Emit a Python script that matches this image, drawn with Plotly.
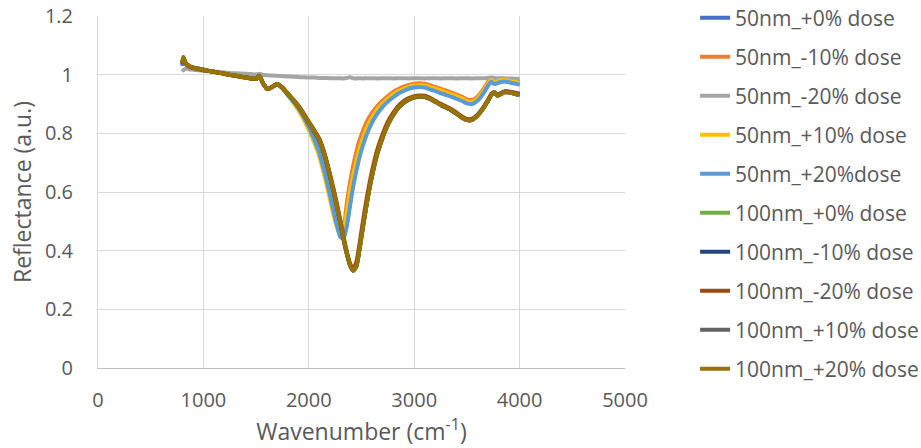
import plotly.graph_objects as go

# Wavenumber grid shared by all spectra (cm-1)
wavenumber = [800, 810, 830, 870, 950, 1050, 1150, 1250, 1350, 1450,
              1500, 1530, 1570, 1610, 1650, 1700, 1750, 1800, 1850, 1900,
              1950, 2000, 2050, 2100, 2150, 2200, 2250, 2300, 2330, 2360,
              2390, 2420, 2450, 2480, 2510, 2550, 2600, 2650, 2700, 2750,
              2800, 2850, 2900, 2950, 3000, 3050, 3100, 3150, 3200, 3250,
              3300, 3350, 3400, 3450, 3500, 3550, 3600, 3650, 3700, 3730,
              3760, 3790, 3820, 3860, 3900, 3950, 4000]

r_50_p0 = [1.030, 1.055, 1.040, 1.028, 1.020, 1.013, 1.007, 1.000, 0.994, 0.988,
           0.986, 0.995, 0.968, 0.951, 0.958, 0.967, 0.954, 0.933, 0.911, 0.887,
           0.858, 0.823, 0.783, 0.735, 0.670, 0.595, 0.515, 0.452, 0.450, 0.492,
           0.560, 0.626, 0.678, 0.724, 0.761, 0.802, 0.841, 0.870, 0.893, 0.911,
           0.926, 0.939, 0.948, 0.955, 0.959, 0.960, 0.958, 0.952, 0.946, 0.939,
           0.933, 0.927, 0.920, 0.913, 0.904, 0.902, 0.913, 0.935, 0.964, 0.977,
           0.969, 0.972, 0.976, 0.978, 0.975, 0.971, 0.967]

r_50_m10 = [1.040, 1.058, 1.038, 1.026, 1.018, 1.012, 1.006, 0.999, 0.993, 0.987,
            0.985, 0.994, 0.967, 0.950, 0.957, 0.966, 0.954, 0.934, 0.912, 0.889,
            0.861, 0.828, 0.790, 0.744, 0.682, 0.610, 0.540, 0.495, 0.492, 0.560,
            0.630, 0.688, 0.735, 0.775, 0.805, 0.840, 0.870, 0.893, 0.911, 0.927,
            0.941, 0.951, 0.959, 0.965, 0.969, 0.971, 0.969, 0.964, 0.958, 0.952,
            0.946, 0.940, 0.933, 0.925, 0.916, 0.914, 0.925, 0.947, 0.975, 0.987,
            0.979, 0.982, 0.985, 0.986, 0.983, 0.980, 0.977]

r_50_m20 = [1.010, 1.015, 1.020, 1.018, 1.015, 1.012, 1.009, 1.006, 1.004, 1.002,
            1.001, 1.003, 0.999, 0.998, 0.997, 0.996, 0.995, 0.994, 0.993, 0.992,
            0.991, 0.990, 0.990, 0.989, 0.989, 0.988, 0.988, 0.988, 0.987, 0.989,
            0.991, 0.988, 0.987, 0.988, 0.987, 0.988, 0.988, 0.987, 0.988, 0.988,
            0.987, 0.988, 0.988, 0.987, 0.988, 0.988, 0.987, 0.988, 0.988, 0.987,
            0.988, 0.988, 0.987, 0.988, 0.988, 0.987, 0.988, 0.988, 0.989, 0.990,
            0.989, 0.988, 0.988, 0.987, 0.987, 0.986, 0.986]

r_50_p10 = [1.038, 1.058, 1.040, 1.028, 1.019, 1.013, 1.007, 1.000, 0.994, 0.988,
            0.986, 0.995, 0.968, 0.951, 0.958, 0.967, 0.954, 0.930, 0.906, 0.880,
            0.849, 0.812, 0.770, 0.720, 0.653, 0.577, 0.500, 0.455, 0.470, 0.530,
            0.598, 0.655, 0.703, 0.746, 0.780, 0.820, 0.855, 0.882, 0.902, 0.919,
            0.933, 0.944, 0.952, 0.959, 0.963, 0.965, 0.963, 0.958, 0.952, 0.946,
            0.940, 0.934, 0.927, 0.919, 0.910, 0.908, 0.919, 0.941, 0.969, 0.982,
            0.974, 0.977, 0.981, 0.982, 0.979, 0.975, 0.972]

r_50_p20 = [1.036, 1.057, 1.040, 1.028, 1.020, 1.013, 1.007, 1.000, 0.994, 0.988,
            0.986, 0.995, 0.968, 0.951, 0.958, 0.967, 0.954, 0.932, 0.910, 0.886,
            0.857, 0.822, 0.782, 0.733, 0.668, 0.592, 0.512, 0.446, 0.442, 0.482,
            0.550, 0.617, 0.670, 0.717, 0.755, 0.797, 0.837, 0.867, 0.890, 0.908,
            0.923, 0.936, 0.945, 0.952, 0.956, 0.958, 0.956, 0.950, 0.944, 0.937,
            0.931, 0.925, 0.918, 0.911, 0.902, 0.900, 0.911, 0.933, 0.962, 0.976,
            0.968, 0.971, 0.975, 0.977, 0.974, 0.970, 0.966]

r_100_p0 = [1.037, 1.059, 1.040, 1.028, 1.020, 1.013, 1.007, 1.000, 0.994, 0.988,
            0.986, 0.996, 0.968, 0.951, 0.958, 0.968, 0.956, 0.935, 0.915, 0.893,
            0.866, 0.837, 0.809, 0.779, 0.727, 0.659, 0.582, 0.497, 0.442, 0.394,
            0.354, 0.334, 0.348, 0.405, 0.476, 0.564, 0.658, 0.733, 0.788, 0.832,
            0.864, 0.889, 0.906, 0.917, 0.924, 0.927, 0.926, 0.919, 0.909, 0.899,
            0.890, 0.881, 0.869, 0.856, 0.847, 0.848, 0.862, 0.884, 0.912, 0.932,
            0.940, 0.930, 0.935, 0.942, 0.941, 0.937, 0.932]

r_100_m10 = [1.038, 1.058, 1.040, 1.028, 1.020, 1.013, 1.007, 1.000, 0.994, 0.988,
             0.986, 0.996, 0.968, 0.951, 0.958, 0.968, 0.955, 0.934, 0.914, 0.892,
             0.865, 0.835, 0.806, 0.776, 0.723, 0.654, 0.577, 0.492, 0.437, 0.390,
             0.351, 0.332, 0.346, 0.403, 0.474, 0.562, 0.656, 0.731, 0.786, 0.830,
             0.862, 0.887, 0.904, 0.915, 0.922, 0.925, 0.924, 0.917, 0.907, 0.897,
             0.888, 0.879, 0.867, 0.854, 0.845, 0.846, 0.860, 0.882, 0.910, 0.930,
             0.938, 0.928, 0.933, 0.940, 0.939, 0.935, 0.930]

r_100_m20 = [1.040, 1.058, 1.038, 1.026, 1.018, 1.012, 1.006, 0.999, 0.993, 0.987,
             0.985, 0.994, 0.967, 0.950, 0.957, 0.967, 0.955, 0.936, 0.916, 0.895,
             0.869, 0.840, 0.812, 0.782, 0.731, 0.663, 0.587, 0.503, 0.448, 0.398,
             0.358, 0.338, 0.360, 0.420, 0.492, 0.580, 0.672, 0.745, 0.797, 0.840,
             0.870, 0.894, 0.910, 0.920, 0.927, 0.929, 0.928, 0.921, 0.911, 0.901,
             0.892, 0.883, 0.871, 0.858, 0.849, 0.850, 0.864, 0.886, 0.914, 0.934,
             0.941, 0.932, 0.937, 0.944, 0.943, 0.939, 0.935]

r_100_p10 = [1.038, 1.059, 1.040, 1.028, 1.020, 1.013, 1.007, 1.000, 0.994, 0.988,
             0.986, 0.996, 0.968, 0.951, 0.958, 0.968, 0.956, 0.935, 0.915, 0.893,
             0.866, 0.836, 0.807, 0.777, 0.725, 0.656, 0.579, 0.494, 0.439, 0.391,
             0.351, 0.331, 0.345, 0.401, 0.471, 0.559, 0.654, 0.729, 0.784, 0.829,
             0.861, 0.887, 0.904, 0.915, 0.922, 0.925, 0.924, 0.917, 0.907, 0.897,
             0.888, 0.879, 0.867, 0.854, 0.845, 0.846, 0.861, 0.883, 0.911, 0.931,
             0.939, 0.929, 0.934, 0.941, 0.940, 0.936, 0.931]

r_100_p20 = [1.040, 1.060, 1.041, 1.029, 1.020, 1.013, 1.007, 1.000, 0.994, 0.988,
             0.986, 0.996, 0.968, 0.951, 0.958, 0.968, 0.956, 0.935, 0.915, 0.893,
             0.866, 0.836, 0.808, 0.778, 0.726, 0.657, 0.580, 0.495, 0.440, 0.392,
             0.352, 0.332, 0.345, 0.402, 0.472, 0.560, 0.655, 0.730, 0.785, 0.830,
             0.862, 0.888, 0.905, 0.916, 0.923, 0.926, 0.925, 0.918, 0.908, 0.898,
             0.889, 0.880, 0.868, 0.855, 0.845, 0.846, 0.860, 0.882, 0.910, 0.930,
             0.938, 0.928, 0.933, 0.940, 0.939, 0.935, 0.930]

series_names = ["50nm_+0% dose", "50nm_-10% dose", "50nm_-20% dose",
                "50nm_+10% dose", "50nm_+20%dose", "100nm_+0% dose",
                "100nm_-10% dose", "100nm_-20% dose", "100nm_+10% dose",
                "100nm_+20% dose"]
series_values = [r_50_p0, r_50_m10, r_50_m20, r_50_p10, r_50_p20,
                 r_100_p0, r_100_m10, r_100_m20, r_100_p10, r_100_p20]
series_colors = ["#4472C4", "#ED7D31", "#A5A5A5", "#FFC000", "#5B9BD5",
                 "#70AD47", "#264478", "#9E480E", "#636363", "#997300"]

FONT = "Open Sans, Lato, sans-serif"
TEXT = "#595959"

fig = go.Figure()
for i, (name, vals, col) in enumerate(zip(series_names, series_values, series_colors)):
    fig.add_trace(go.Scatter(
        x=wavenumber, y=vals, name=name, mode="lines",
        line=dict(color=col, width=4, shape="spline", smoothing=0.6),
        legendgroup=f"g{i}",
    ))

fig.update_layout(
    width=921, height=448,
    margin=dict(l=98, r=296, t=16, b=80, autoexpand=False),
    paper_bgcolor="white", plot_bgcolor="white",
    font=dict(family=FONT, color=TEXT, size=20),
    legend=dict(
        x=1.133, xanchor="left", y=1.052, yanchor="top",
        font=dict(family=FONT, size=21, color=TEXT),
        tracegroupgap=8.7, bgcolor="rgba(0,0,0,0)",
        maxheight=446,
    ),
    showlegend=True,
)
fig.update_xaxes(
    range=[0, 5000], dtick=1000, tick0=0,
    showgrid=True, gridcolor="#D9D9D9", gridwidth=1,
    zeroline=False, showline=True, linecolor="#BFBFBF", linewidth=1,
    ticks="", ticklabelstandoff=14,
    tickfont=dict(family=FONT, size=20, color=TEXT),
    title=dict(text="Wavenumber (cm<sup>-1</sup>)", standoff=8,
               font=dict(family=FONT, size=23, color=TEXT)),
)
fig.update_yaxes(
    range=[0, 1.2], dtick=0.2, tick0=0,
    showgrid=True, gridcolor="#D9D9D9", gridwidth=1,
    zeroline=False, showline=True, linecolor="#D9D9D9", linewidth=1,
    ticks="", ticklabelstandoff=20,
    tickfont=dict(family=FONT, size=20, color=TEXT),
    title=dict(text="Reflectance (a.u.)", standoff=6,
               font=dict(family=FONT, size=23, color=TEXT)),
)

fig.write_html("out.html")
